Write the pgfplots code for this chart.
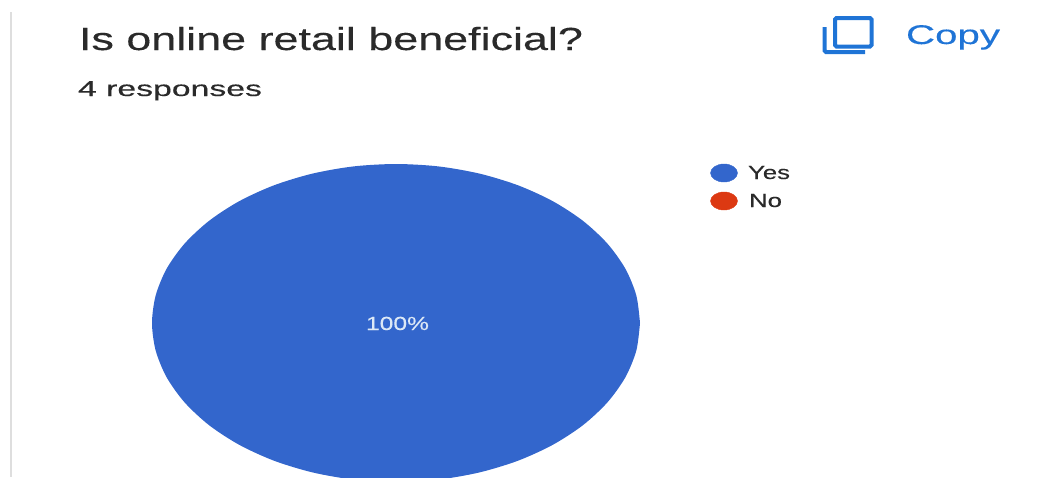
\documentclass[border=0pt]{standalone}
\usepackage{graphicx}
\usepackage{fontspec}
\setmainfont[FakeBold=0.25]{Liberation Sans}
\usepackage{pgfplots}
\pgfplotsset{compat=1.18}
\definecolor{pieblue}{HTML}{3366CC}
\definecolor{piered}{HTML}{DC3912}
\definecolor{copyblue}{HTML}{1F74D6}
\definecolor{inktext}{HTML}{2A2A2A}
\definecolor{panelline}{HTML}{DEDEDE}
\definecolor{labellight}{HTML}{DCE8F6}
% Text stretched to a given width at its natural height
\newcommand{\wide}[3]{\resizebox{#1pt}{\height}{\fontsize{#2}{#2}\selectfont #3}}
\tikzset{lbl/.style={anchor=base west, inner sep=0pt, outer sep=0pt}}
\begin{document}
\begin{tikzpicture}
\path[use as bounding box] (0,0) rectangle (1059pt,477pt);
\begin{axis}[
  at={(0,0)}, anchor=south west,
  width=1059pt, height=477pt, scale only axis,
  xmin=0, xmax=1059, ymin=0, ymax=477, y dir=reverse,
  hide axis, clip=true,
]
% Panel edge
\addplot[panelline, line width=1.5pt] coordinates {(11,12) (11,477)};

% The single slice: Yes, 100% of the 4 responses
\addplot[fill=pieblue, draw=none, smooth] coordinates {
  (640,323) (636.3,350.6) (625.3,377.4) (607.3,402.5) (582.9,425.2) (552.8,444.8)
  (518,460.7) (479.5,472.4) (438.4,479.6) (396,482) (353.6,479.6) (312.5,472.4)
  (274,460.7) (239.2,444.8) (209.1,425.2) (184.7,402.5) (166.7,377.4) (155.7,350.6)
  (152,323) (155.7,295.4) (166.7,268.6) (184.7,243.5) (209.1,220.8) (239.2,201.2)
  (274,185.3) (312.5,173.6) (353.6,166.4) (396,164) (438.4,166.4) (479.5,173.6)
  (518,185.3) (552.8,201.2) (582.9,220.8) (607.3,243.5) (625.3,268.6) (636.3,295.4)
  (640,323)
} -- cycle;

% Legend swatches
\addplot[only marks, mark=*, mark size=9pt, mark options={xscale=1.5, draw=pieblue, fill=pieblue}]
  coordinates {(724,173)};
\addplot[only marks, mark=*, mark size=9pt, mark options={xscale=1.5, draw=piered, fill=piered}]
  coordinates {(724,201)};

% Copy icon
\draw[copyblue, line width=4pt, rounded corners=1.5pt] (axis cs:835,18) rectangle (axis cs:871.5,46.5);
\draw[copyblue, line width=4pt, rounded corners=1.5pt] (axis cs:824.5,27) -- (axis cs:824.5,52) -- (axis cs:865,52);

% Text
\node[lbl, text=inktext] at (axis cs:79,50) {\wide{504}{32}{Is online retail beneficial?}};
\node[lbl, text=inktext] at (axis cs:78,96) {\wide{184}{21.5}{4 responses}};
\node[lbl, text=copyblue] at (axis cs:906,44) {\wide{94}{27}{Copy}};
\node[lbl, text=inktext] at (axis cs:748,179) {\wide{42}{19}{Yes}};
\node[lbl, text=inktext] at (axis cs:749,207) {\wide{33}{19}{No}};
\node[lbl, text=labellight] at (axis cs:366,330) {\wide{63}{19}{100\%}};
\end{axis}
\end{tikzpicture}
\end{document}
